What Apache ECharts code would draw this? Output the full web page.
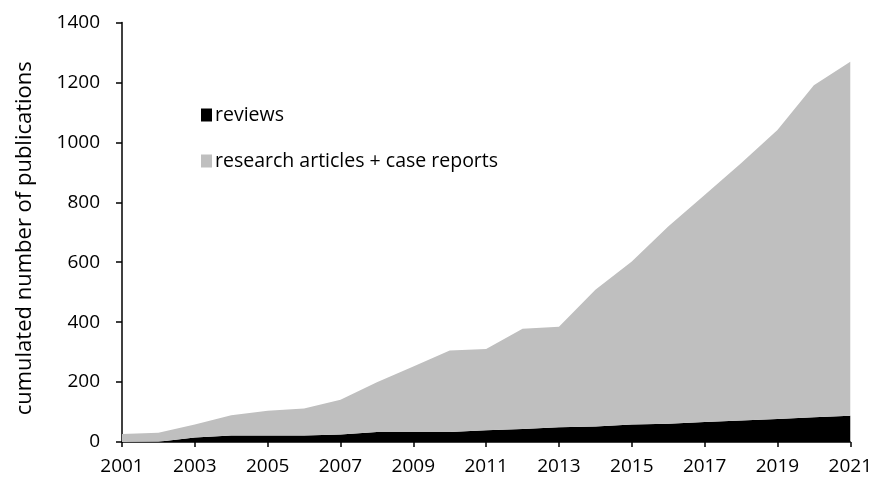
<!DOCTYPE html>
<html>
<head>
<meta charset="utf-8">
<script src="https://cdn.jsdelivr.net/npm/echarts@6/dist/echarts.min.js"></script>
<style>html,body{margin:0;padding:0;background:#fff;}#c{width:875px;height:477px;}</style>
</head>
<body>
<div id="c"></div>
<script>
const years = ['2001','2002','2003','2004','2005','2006','2007','2008','2009','2010','2011','2012','2013','2014','2015','2016','2017','2018','2019','2020','2021'];
const reviews = [0, 1, 15, 22, 22, 22, 25, 33, 33, 33, 39, 43, 49, 52, 58, 61, 67, 72, 77, 83, 88];
const research = [27, 30, 43, 67, 82, 90, 116, 166, 219, 272, 271, 335, 336, 456, 544, 658, 757, 858, 964, 1108, 1181];
const yTicks = [0, 200, 400, 600, 800, 1000, 1200, 1400];

const FONT = 'Open Sans';
const chart = echarts.init(document.getElementById('c'));
chart.setOption({
  animation: false,
  backgroundColor: '#fff',
  textStyle: { fontFamily: FONT },
  grid: { left: 122, right: 21, top: 22.5, bottom: 35, containLabel: false },
  legend: {
    orient: 'vertical',
    left: 196, top: 100,
    itemWidth: 11, itemHeight: 13, itemGap: 26,
    icon: 'rect',
    textStyle: { fontFamily: FONT, fontSize: 19.5, color: '#000', padding: [0,0,0,-2] },
    data: [
      { name: 'reviews', itemStyle: { color: '#000' } },
      { name: 'research articles + case reports', itemStyle: { color: '#bfbfbf' } }
    ]
  },
  xAxis: {
    type: 'category',
    data: years,
    boundaryGap: false,
    axisLine: { lineStyle: { color: '#000', width: 1.5 } },
    axisTick: { interval: 1, length: 5, lineStyle: { color: '#000', width: 1.5 } },
    axisLabel: { interval: 1, color: '#000', fontSize: 19, fontFamily: FONT, margin: 15 },
    splitLine: { show: false }
  },
  yAxis: {
    type: 'value',
    min: yTicks[0], max: yTicks[yTicks.length - 1], interval: 200,
    name: 'cumulated number of publications',
    nameLocation: 'middle',
    nameGap: 86,
    nameTextStyle: { color: '#000', fontSize: 22, fontFamily: FONT, padding: [0, 12, 0, 0] },
    axisLine: { show: true, lineStyle: { color: '#000', width: 1.5 } },
    axisTick: { show: true, length: 6, lineStyle: { color: '#000', width: 1.5 } },
    axisLabel: { color: '#000', fontSize: 19, fontFamily: FONT, margin: 22, formatter: function (v) { return String(v); } },
    splitLine: { show: false }
  },
  series: [
    {
      name: 'reviews', type: 'line', stack: 'total', data: reviews,
      symbol: 'none', lineStyle: { width: 0 },
      itemStyle: { color: '#000' },
      areaStyle: { color: '#000', opacity: 1 }
    },
    {
      name: 'research articles + case reports', type: 'line', stack: 'total', data: research,
      symbol: 'none', lineStyle: { width: 0 },
      itemStyle: { color: '#bfbfbf' },
      areaStyle: { color: '#bfbfbf', opacity: 1 }
    }
  ]
});
</script>
</body>
</html>
